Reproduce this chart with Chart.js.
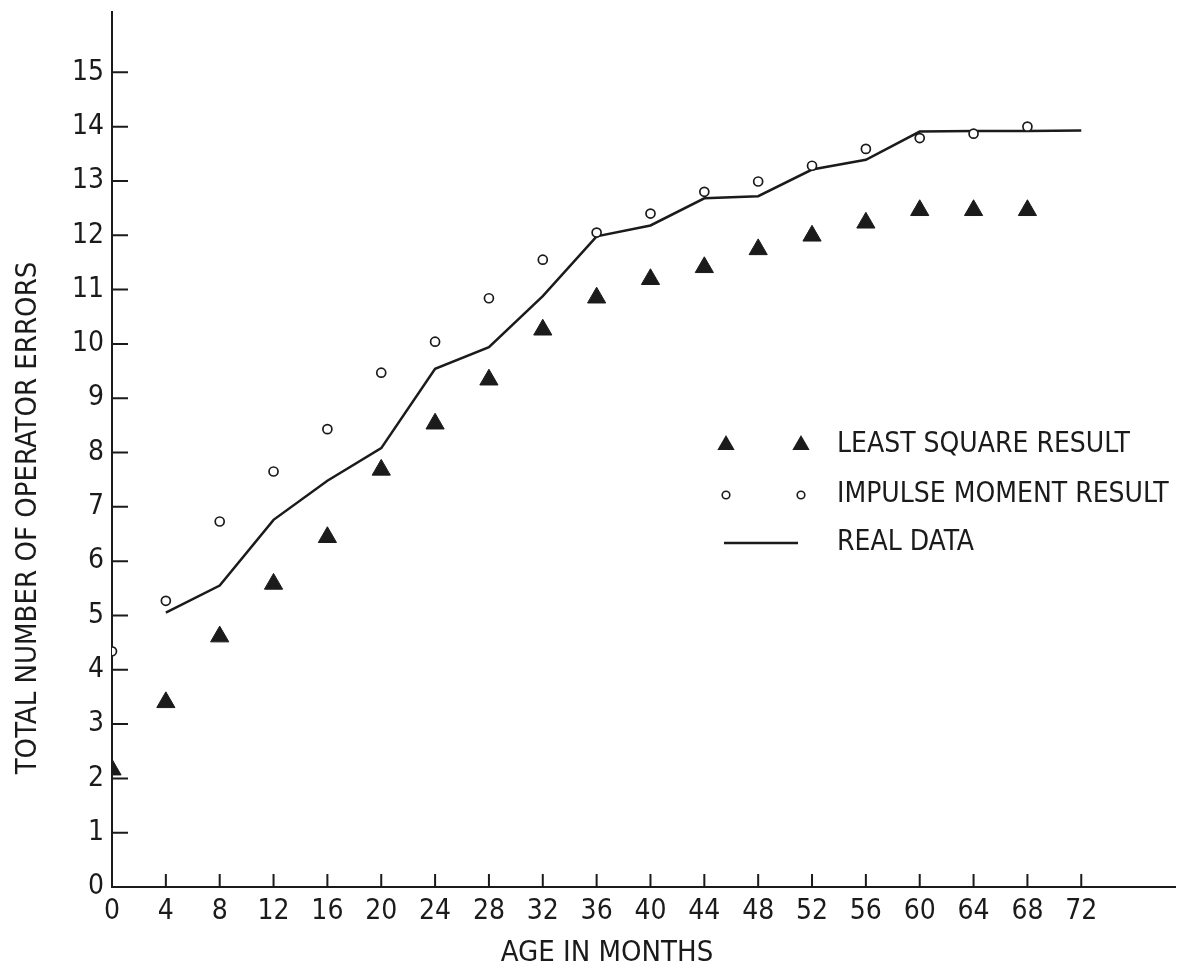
<!DOCTYPE html>
<html>
<head>
<meta charset="utf-8">
<script src="https://cdn.jsdelivr.net/npm/chart.js@4.4.1/dist/chart.umd.min.js"></script>
<style>
  html, body { margin: 0; padding: 0; background: #fff; }
  #wrap { width: 1187px; height: 974px; position: relative; }
</style>
</head>
<body>
<div id="wrap"><canvas id="c"></canvas></div>
<script>
// ---- data ----
const months = [0, 4, 8, 12, 16, 20, 24, 28, 32, 36, 40, 44, 48, 52, 56, 60, 64, 68, 72];
const leastSquare = [2.16, 3.40, 4.61, 5.58, 6.44, 7.68, 8.53, 9.34, 10.26, 10.85, 11.19, 11.41, 11.74, 11.99, 12.23, 12.46, 12.46, 12.46, null];
const impulseMoment = [4.34, 5.27, 6.73, 7.65, 8.43, 9.47, 10.04, 10.84, 11.55, 12.05, 12.40, 12.80, 12.99, 13.28, 13.59, 13.79, 13.87, 14.00, null];
const realData = [null, 5.05, 5.55, 6.76, 7.48, 8.08, 9.54, 9.94, 10.88, 11.98, 12.18, 12.68, 12.72, 13.21, 13.39, 13.91, 13.92, 13.92, 13.93];
const xTickValues = [0, 4, 8, 12, 16, 20, 24, 28, 32, 36, 40, 44, 48, 52, 56, 60, 64, 68, 72];
const yTickValues = [0, 1, 2, 3, 4, 5, 6, 7, 8, 9, 10, 11, 12, 13, 14, 15];
const legendLabels = ['LEAST SQUARE RESULT', 'IMPULSE MOMENT RESULT', 'REAL DATA'];
const xTitle = 'AGE IN MONTHS';
const yTitle = 'TOTAL NUMBER OF OPERATOR ERRORS';

const toPoints = (vals) => months.map((m, i) => ({ x: m, y: vals[i] })).filter(p => p.y !== null);

const FONT = '"Liberation Sans Narrow", "DejaVu Sans Condensed", "Liberation Sans", sans-serif';
const INK = '#1b1b1b';

// inward tick marks drawn from the library's scales
const innerTicks = {
  id: 'innerTicks',
  afterDraw(chart) {
    const ctx = chart.ctx;
    const xs = chart.scales.x, ys = chart.scales.y;
    ctx.save();
    ctx.strokeStyle = INK;
    ctx.lineWidth = 2;
    ctx.beginPath();
    xs.ticks.forEach((t, i) => {
      const px = xs.getPixelForTick(i);
      ctx.moveTo(px, ys.bottom);
      ctx.lineTo(px, ys.bottom - 13);
    });
    ys.ticks.forEach((t, i) => {
      const py = ys.getPixelForTick(i);
      ctx.moveTo(xs.left, py);
      ctx.lineTo(xs.left + 16, py);
    });
    ctx.stroke();
    ctx.restore();
  }
};

// axis titles, placed as in the reference (off-centre)
const axisTitles = {
  id: 'axisTitles',
  afterDraw(chart) {
    const ctx = chart.ctx;
    ctx.save();
    ctx.fillStyle = INK;
    ctx.font = '29px ' + FONT;
    ctx.textAlign = 'center';
    ctx.textBaseline = 'middle';
    ctx.fillText(xTitle, 607, 953);
    ctx.translate(28, 518);
    ctx.rotate(-Math.PI / 2);
    ctx.fillText(yTitle, 0, 0);
    ctx.restore();
  }
};

// legend drawn inside the plot, as in the reference
const innerLegend = {
  id: 'innerLegend',
  afterDraw(chart) {
    const ctx = chart.ctx;
    const m1 = 726, m2 = 801, tx = 837;
    const rows = [445, 495, 543];
    ctx.save();
    ctx.fillStyle = INK;
    ctx.strokeStyle = INK;
    const tri = (x, y, r) => {
      ctx.beginPath();
      ctx.moveTo(x, y - r);
      ctx.lineTo(x + r * 0.866, y + r * 0.5);
      ctx.lineTo(x - r * 0.866, y + r * 0.5);
      ctx.closePath();
      ctx.fill();
    };
    tri(m1, rows[0], 10);
    tri(m2, rows[0], 10);
    ctx.lineWidth = 1.6;
    ctx.fillStyle = '#fff';
    [m1, m2].forEach(x => {
      ctx.beginPath();
      ctx.arc(x, rows[1], 3.8, 0, Math.PI * 2);
      ctx.fill();
      ctx.stroke();
    });
    ctx.lineWidth = 2.5;
    ctx.beginPath();
    ctx.moveTo(724, rows[2]);
    ctx.lineTo(798, rows[2]);
    ctx.stroke();
    ctx.fillStyle = INK;
    ctx.font = '28px ' + FONT;
    ctx.textBaseline = 'middle';
    ctx.textAlign = 'left';
    legendLabels.forEach((t, i) => ctx.fillText(t, tx, rows[i]));
    ctx.restore();
  }
};

new Chart(document.getElementById('c'), {
  type: 'scatter',
  data: {
    datasets: [
      {
        label: legendLabels[2],
        data: toPoints(realData),
        showLine: true,
        borderColor: INK,
        borderWidth: 2.5,
        pointRadius: 0,
        tension: 0,
        order: 3
      },
      {
        label: legendLabels[1],
        data: toPoints(impulseMoment),
        showLine: false,
        pointStyle: 'circle',
        pointRadius: 4.5,
        pointBorderWidth: 1.7,
        pointBackgroundColor: '#fff',
        pointBorderColor: INK,
        order: 1
      },
      {
        label: legendLabels[0],
        data: toPoints(leastSquare),
        showLine: false,
        pointStyle: 'triangle',
        pointRadius: 10.5,
        pointBorderWidth: 1,
        pointBackgroundColor: INK,
        pointBorderColor: INK,
        order: 2
      }
    ]
  },
  options: {
    responsive: true,
    maintainAspectRatio: false,
    animation: false,
    layout: { padding: { top: 11, right: 8, left: 0, bottom: 0 } },
    plugins: {
      legend: { display: false },
      tooltip: { enabled: false }
    },
    scales: {
      x: {
        type: 'linear',
        min: 0,
        max: 79,
        grid: { display: false, drawTicks: false },
        border: { display: true, color: INK, width: 2 },
        ticks: { stepSize: 4, color: INK, padding: 8, font: { family: FONT, size: 28 }, maxRotation: 0, autoSkip: false },
        afterBuildTicks: (s) => { s.ticks = xTickValues.map(v => ({ value: v })); },
        afterFit: (s) => { s.height = 87; s.paddingLeft = 0; s.paddingRight = 0; },
        title: { display: false }
      },
      y: {
        type: 'linear',
        min: 0,
        max: 16.12,
        grid: { display: false, drawTicks: false },
        border: { display: true, color: INK, width: 2 },
        ticks: { stepSize: 1, color: INK, padding: 8, font: { family: FONT, size: 28 }, autoSkip: false },
        afterBuildTicks: (s) => { s.ticks = yTickValues.map(v => ({ value: v })); },
        afterFit: (s) => { s.width = 112; s.paddingTop = 0; s.paddingBottom = 0; },
        title: { display: false }
      }
    }
  },
  plugins: [innerTicks, axisTitles, innerLegend]
});
</script>
</body>
</html>
